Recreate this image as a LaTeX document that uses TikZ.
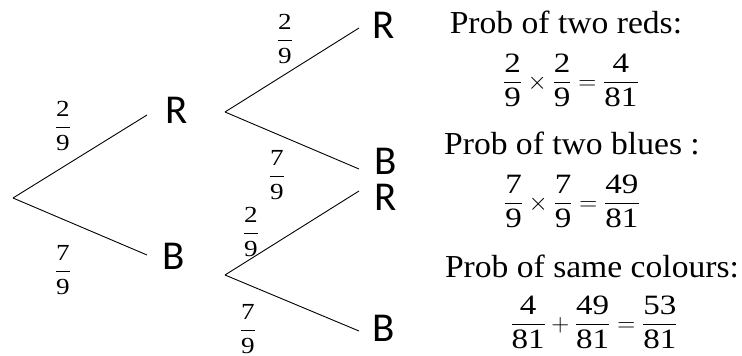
\documentclass[tikz,border=0pt]{standalone}
\usepackage{amsmath}
\usepackage{fontspec}
\setmainfont[FakeStretch=1.05]{Liberation Serif}
\newfontfamily\numfont[FakeStretch=1.18]{Liberation Serif}
\newfontfamily\letterfont{Carlito}
\newcommand{\fr}[2]{\dfrac{\mbox{\numfont #1}}{\mbox{\numfont #2}}}
\begin{document}
\begin{tikzpicture}[x=1pt,y=-1pt,
  branch/.style={line width=0.9pt},
  letter/.style={font=\letterfont\fontsize{41}{44}\selectfont, inner sep=0pt},
  prob/.style={font=\fontsize{23}{26}\selectfont, inner sep=0pt},
  head/.style={font=\fontsize{32}{36}\selectfont, inner sep=0pt, anchor=base},
  eqn/.style={font=\fontsize{28}{32}\selectfont, inner sep=0pt}]
\useasboundingbox (0,0) rectangle (742,356);
% tree coordinates
\coordinate (root) at (13,198);
\coordinate (r1in) at (147,115);
\coordinate (b1in) at (147,255);
\coordinate (r1out) at (225,112);
\coordinate (b1out) at (225,275);
\coordinate (rrin) at (359,28);
\coordinate (rbin) at (359,169);
\coordinate (brin) at (359,191);
\coordinate (bbin) at (359,331);
% letters
\node[letter] (R1) at (177,110) {R};
\node[letter] (B1) at (174,256) {B};
\node[letter] (RR) at (384,25.5) {R};
\node[letter] (RB) at (386,161.5) {B};
\node[letter] (BR) at (386,197.5) {R};
\node[letter] (BB) at (384,328) {B};
% branches
\draw[branch] (root) -- (r1in);
\draw[branch] (root) -- (b1in);
\draw[branch] (r1out) -- (rrin);
\draw[branch] (r1out) -- (rbin);
\draw[branch] (b1out) -- (brin);
\draw[branch] (b1out) -- (bbin);
% probabilities
\node[prob] (p1) at (63,126) {$\fr{2}{9}$};
\node[prob] (p2) at (63,270) {$\fr{7}{9}$};
\node[prob] (p3) at (285,39) {$\fr{2}{9}$};
\node[prob] (p4) at (277,175) {$\fr{7}{9}$};
\node[prob] (p5) at (251,232) {$\fr{2}{9}$};
\node[prob] (p6) at (248,329) {$\fr{7}{9}$};
% right side text
\node[head] (h1) at (566,33) {Prob of two reds:};
\node[eqn] (e1) at (571,80) {$\fr{2}{9}\times\fr{2}{9}=\fr{4}{81}$};
\node[head] (h2) at (572,154) {Prob of two blues :};
\node[eqn] (e2) at (572,201) {$\fr{7}{9}\times\fr{7}{9}=\fr{49}{81}$};
\node[head] (h3) at (592,277) {Prob of same colours:};
\node[eqn] (e3) at (594,322) {$\fr{4}{81}+\fr{49}{81}=\fr{53}{81}$};
\end{tikzpicture}
\end{document}
